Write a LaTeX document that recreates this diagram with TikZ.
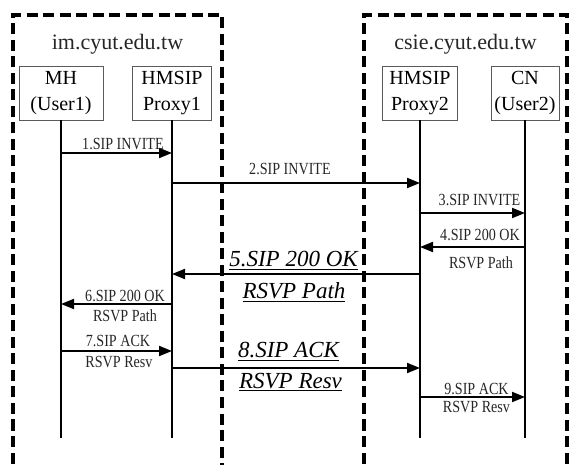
\documentclass[tikz,border=0pt]{standalone}
\usepackage{fontspec}
\setmainfont{Liberation Serif}
\newfontfamily\narrowfont{Liberation Serif}[FakeStretch=0.83]
\usetikzlibrary{arrows.meta}
\definecolor{boxgray}{HTML}{5A5A5A}
\definecolor{inkgray}{HTML}{262626}
\tikzset{
    entity/.style = {draw=boxgray, line width=0.9pt, minimum height=54pt,
                     inner sep=0pt, align=center,
                     font=\fontsize{20}{26}\selectfont},
    domainbox/.style = {line width=3.5pt, dash pattern=on 11pt off 5.5pt},
    domlbl/.style = {anchor=base, text=inkgray, font=\fontsize{22}{26}\selectfont},
    lifeline/.style = {line width=1.3pt},
    msg/.style = {-{Triangle[length=13pt,width=10pt]}, line width=2pt},
    lbl/.style = {inner sep=0pt, text=inkgray,
                  font=\narrowfont\fontsize{17}{19}\selectfont},
    lblup/.style = {lbl, anchor=base, yshift=#1},
    lbldown/.style = {lbl, anchor=north, yshift=-#1},
    big/.style = {inner sep=0pt, font=\itshape\fontsize{23}{26}\selectfont},
    bigup/.style = {big, anchor=base, yshift=#1},
    bigdown/.style = {big, anchor=north, yshift=-#1},
}

\begin{document}
\begin{tikzpicture}[x=1pt, y=-1pt]
    \useasboundingbox (0,0) rectangle (571,465);
    % domains
    \draw[domainbox] (13,480) |- (222,15) -- (222,480);
    \draw[domainbox] (364,480) |- (567,15) -- (567,480);
    \node[domlbl] (imdom) at (117.5,50) {im.cyut.edu.tw};
    \node[domlbl] (csiedom) at (465.5,50) {csie.cyut.edu.tw};
    % entities
    \node[entity, minimum width=84pt] (mh) at (61,93) {MH\\(User1)};
    \node[entity, minimum width=79pt] (pxa) at (172,93) {HMSIP\\Proxy1};
    \node[entity, minimum width=75pt] (pxb) at (420,93) {HMSIP\\Proxy2};
    \node[entity, minimum width=68pt] (cn) at (525,93) {CN\\(User2)};
    % lifelines
    \coordinate (bottom) at (0,438);
    \foreach \e in {mh, pxa, pxb, cn}
        \draw[lifeline] (\e.south) -- (\e.south |- bottom);
    % message rows
    \coordinate (m1) at (0,153);
    \coordinate (m2) at (0,183);
    \coordinate (m3) at (0,213);
    \coordinate (m4) at (0,247);
    \coordinate (m5) at (0,274);
    \coordinate (m6) at (0,304);
    \coordinate (m7) at (0,351);
    \coordinate (m8) at (0,368);
    \coordinate (m9) at (0,397);
    % messages
    \draw[msg] (mh |- m1) -- (pxa |- m1)
          node[midway, lblup=3pt, xshift=6.5pt] {1.SIP INVITE};
    \draw[msg] (pxa |- m2) -- (pxb |- m2)
          node[midway, lblup=8pt, xshift=-6pt] {2.SIP INVITE};
    \draw[msg] (pxb |- m3) -- (cn |- m3)
          node[midway, lblup=7.5pt, xshift=7pt] {3.SIP INVITE};
    \draw[msg] (cn |- m4) -- (pxb |- m4)
          node[midway, lblup=6.5pt, xshift=7.5pt] {4.SIP 200 OK}
          node[midway, lbldown=9pt, xshift=8.5pt] {RSVP Path};
    \draw[msg] (pxb |- m5) -- (pxa |- m5)
          node[midway, bigup=7pt, xshift=-2.5pt] {\underline{5.SIP 200 OK}}
          node[midway, bigdown=8pt, xshift=-2pt] {\underline{RSVP Path}};
    \draw[msg] (pxa |- m6) -- (mh |- m6)
          node[midway, lblup=2.5pt, xshift=8.5pt] {6.SIP 200 OK}
          node[midway, lbldown=5pt, xshift=8.5pt] {RSVP Path};
    \draw[msg] (mh |- m7) -- (pxa |- m7)
          node[midway, lblup=4pt, xshift=1.5pt] {7.SIP ACK}
          node[midway, lbldown=4.5pt, xshift=2.5pt] {RSVP Resv};
    \draw[msg] (pxa |- m8) -- (pxb |- m8)
          node[midway, bigup=10pt, xshift=-7.5pt] {\underline{8.SIP ACK}}
          node[midway, bigdown=4pt, xshift=-5.5pt] {\underline{RSVP Resv}};
    \draw[msg] (pxb |- m9) -- (cn |- m9)
          node[midway, lblup=2.5pt, xshift=4pt] {9.SIP ACK}
          node[midway, lbldown=3pt, xshift=4pt] {RSVP Resv};
\end{tikzpicture}
\end{document}
